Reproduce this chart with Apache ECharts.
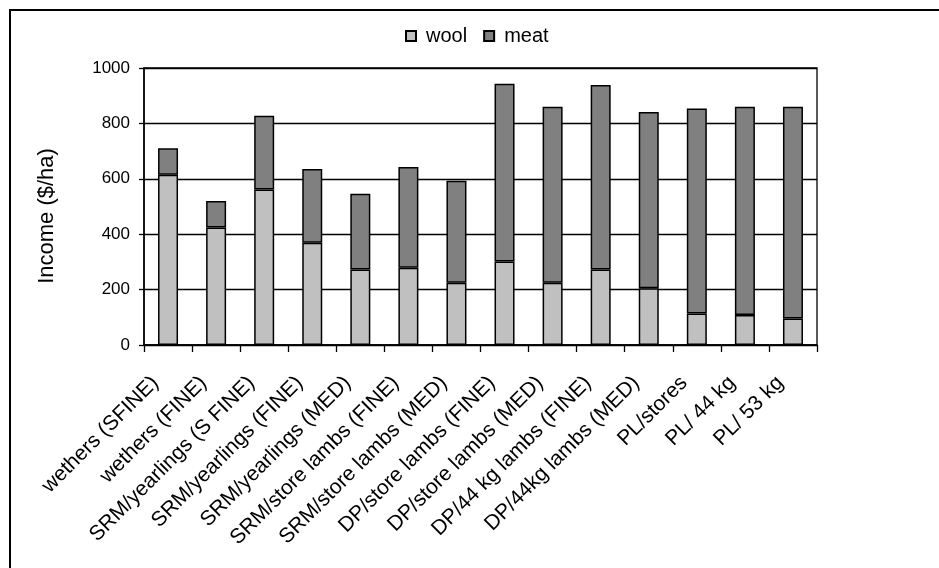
<!DOCTYPE html>
<html>
<head>
<meta charset="utf-8">
<script src="https://cdn.jsdelivr.net/npm/echarts@6/dist/echarts.min.js"></script>
<style>
  html, body { margin: 0; padding: 0; background: #fff; }
  #chart { width: 939px; height: 568px; }
</style>
</head>
<body>
<div id="chart"></div>
<script>
// Enterprise options and their income split (wool vs meat), $/ha
const categories = [
  'wethers (SFINE)', 'wethers (FINE)', 'SRM/yearlings (S FINE)', 'SRM/yearlings (FINE)',
  'SRM/yearlings (MED)', 'SRM/store lambs (FINE)', 'SRM/store lambs (MED)',
  'DP/store lambs (FINE)', 'DP/store lambs (MED)', 'DP/44 kg lambs (FINE)',
  'DP/44kg lambs (MED)', 'PL/stores', 'PL/ 44 kg', 'PL/ 53 kg'
];
const woolIncome = [615, 424, 561, 369, 273, 279, 225, 301, 225, 273, 205, 114, 108, 96];
const meatIncome = [95, 96, 267, 266, 273, 364, 368, 642, 635, 666, 636, 740, 752, 764];
const seriesNames = ['wool', 'meat'];
const yTicks = { min: 0, max: 1000, interval: 200 };

const FONT = '"Liberation Sans", Arial, sans-serif';
const chart = echarts.init(document.getElementById('chart'), null, { renderer: 'canvas' });

chart.setOption({
  animation: false,
  backgroundColor: '#ffffff',
  graphic: [{
    type: 'rect',
    shape: { x: 10, y: 10, width: 960, height: 600 },
    style: { fill: 'none', stroke: '#000', lineWidth: 2 },
    silent: true
  }],
  legend: {
    left: 400,
    top: 21,
    itemWidth: 10,
    itemHeight: 10,
    itemGap: 16,
    icon: 'rect',
    textStyle: { fontFamily: FONT, fontSize: 20, color: '#000', padding: [0, 0, 0, 5] },
    data: seriesNames
  },
  grid: {
    left: 144, top: 68, right: 122, bottom: 223,
    show: true, borderColor: '#000', borderWidth: 1.3, backgroundColor: 'transparent'
  },
  xAxis: {
    type: 'category',
    data: categories,
    axisLine: { lineStyle: { color: '#000', width: 1.5 } },
    axisTick: { show: true, length: 7, lineStyle: { color: '#000', width: 1.3 } },
    axisLabel: {
      rotate: 45, interval: 0, margin: 22, color: '#000',
      fontFamily: FONT, fontSize: 21, padding: [0, 18, 0, 0]
    }
  },
  yAxis: {
    type: 'value',
    min: yTicks.min, max: yTicks.max, interval: yTicks.interval,
    name: 'Income ($/ha)',
    nameLocation: 'middle',
    nameGap: 86,
    nameRotate: 90,
    nameTextStyle: { fontFamily: FONT, fontSize: 22, color: '#000', padding: [0, 19, 0, 0] },
    axisLine: { show: true, lineStyle: { color: '#000', width: 1.5 } },
    axisTick: { show: true, length: 5, lineStyle: { color: '#000', width: 1.3 } },
    axisLabel: {
      margin: 14, color: '#000', fontFamily: FONT, fontSize: 17,
      formatter: (v) => String(v)
    },
    splitLine: { show: true, lineStyle: { color: '#000', width: 1.3 } }
  },
  series: [
    {
      name: seriesNames[0], type: 'bar', stack: 'income', barWidth: 20,
      data: woolIncome,
      itemStyle: { color: '#c0c0c0', borderColor: '#000', borderWidth: 1.5 }
    },
    {
      name: seriesNames[1], type: 'bar', stack: 'income', barWidth: 20,
      data: meatIncome,
      itemStyle: { color: '#808080', borderColor: '#000', borderWidth: 1.5 }
    }
  ]
});
</script>
</body>
</html>
